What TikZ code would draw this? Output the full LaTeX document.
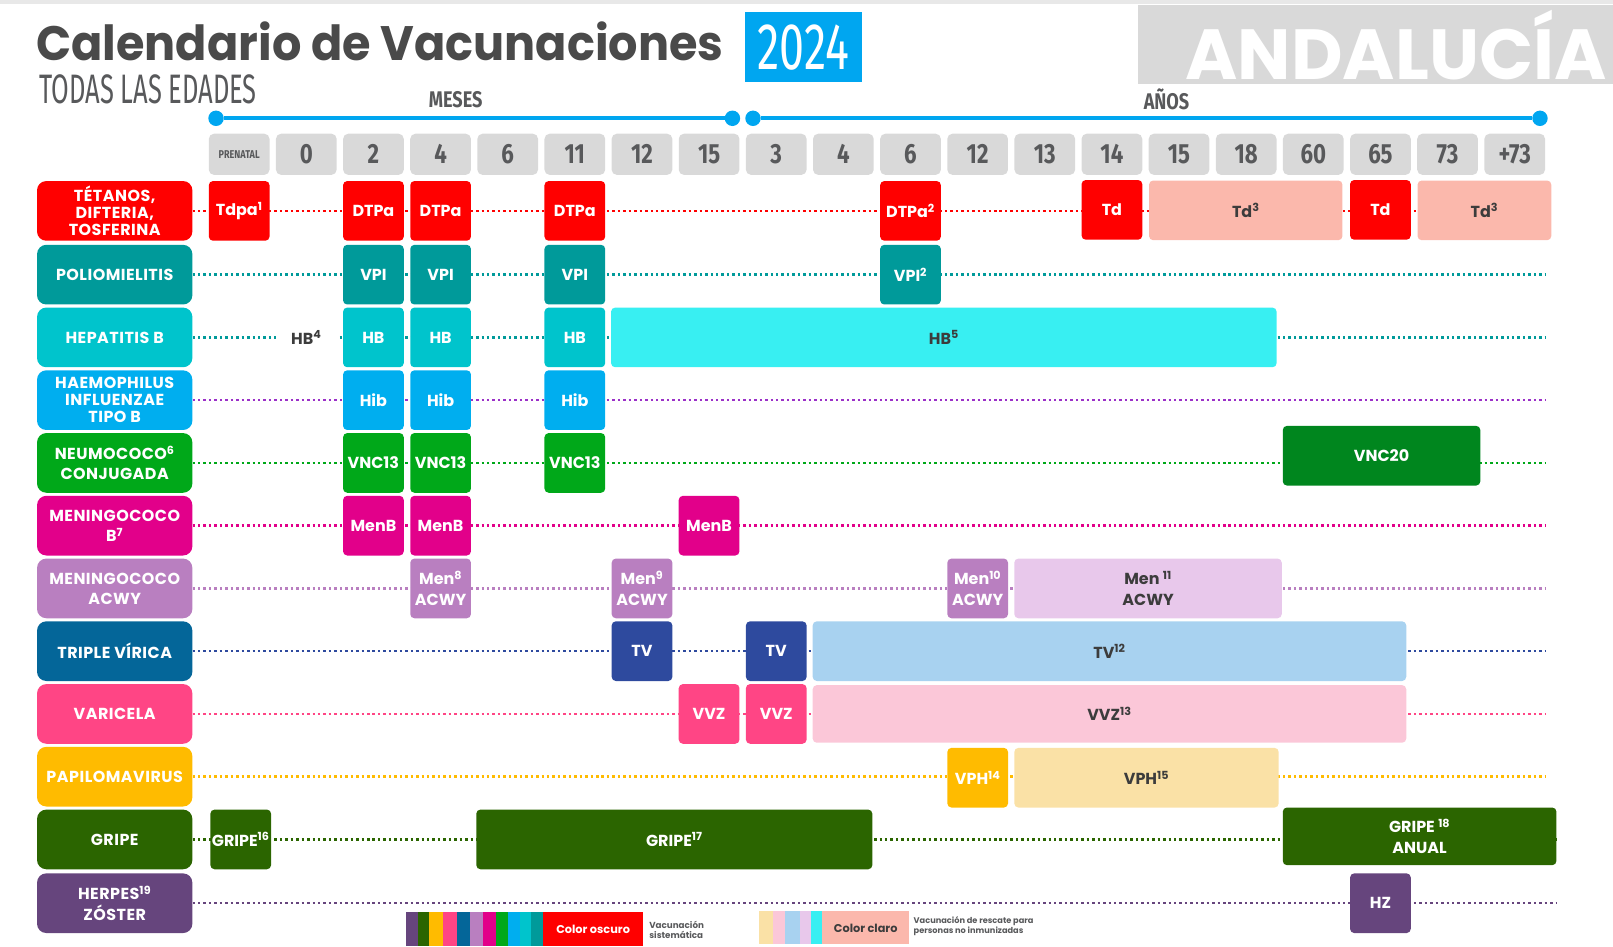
\documentclass[tikz,border=0pt]{standalone}
\usepackage{fontspec}
\newfontfamily\popfont{Poppins}
\newfontfamily\labfont[LetterSpace=3]{Poppins}
\newfontfamily\titlefont[FakeStretch=0.955]{Poppins}
\newfontfamily\condfont[FakeStretch=0.8]{Fira Sans}
\newfontfamily\narrowfont[FakeStretch=0.62]{Fira Sans}
\newfontfamily\yearfont[FakeStretch=0.68]{Fira Sans}
\usetikzlibrary{positioning,backgrounds}
\definecolor{cRed}{HTML}{FF0000}
\definecolor{cTeal}{HTML}{009A9A}
\definecolor{cTurq}{HTML}{00C4CC}
\definecolor{cSky}{HTML}{00AEEF}
\definecolor{cGreen}{HTML}{00A819}
\definecolor{cGreenDk}{HTML}{00861E}
\definecolor{cMagenta}{HTML}{E2008A}
\definecolor{cLilac}{HTML}{B97FC0}
\definecolor{cPetrol}{HTML}{046699}
\definecolor{cNavy}{HTML}{2E4A9E}
\definecolor{cPink}{HTML}{FF4585}
\definecolor{cAmber}{HTML}{FFBB00}
\definecolor{cForest}{HTML}{2B6500}
\definecolor{cPlum}{HTML}{66457D}
\definecolor{cPurpleLine}{HTML}{9B30C8}
\definecolor{lSalmon}{HTML}{FBB8AC}
\definecolor{lCyan}{HTML}{38EFF2}
\definecolor{lLilac}{HTML}{E8C8EB}
\definecolor{lBlue}{HTML}{A8D2F0}
\definecolor{lPink}{HTML}{FBC7D8}
\definecolor{lAmber}{HTML}{FAE1A6}
\definecolor{hdrGray}{HTML}{D9D9D9}
\definecolor{txtGray}{HTML}{58595B}
\definecolor{titleGray}{HTML}{4A4A4A}
\definecolor{darkTxt}{HTML}{3C3C3C}
\definecolor{yearBlue}{HTML}{00A6F0}
\tikzset{
	disease/.style={fill=#1, rounded corners=9pt, minimum width=151pt, minimum height=58pt,
		inner sep=0pt, align=center, text=white, font=\labfont\bfseries\fontsize{15.5}{16.5}\selectfont},
	dose/.style={fill=#1, rounded corners=4pt, minimum width=59pt, minimum height=58pt,
		inner sep=0pt, align=center, text=white, font=\popfont\bfseries\fontsize{15.5}{20.5}\selectfont},
	rescue/.style={dose=#1, text=darkTxt},
	agebox/.style={fill=hdrGray, rounded corners=5pt, minimum width=59pt, minimum height=40pt,
		inner sep=0pt, text=txtGray, font=\condfont\bfseries\fontsize{27}{27}\selectfont},
	track/.style={draw=#1, line width=2.4pt, dash pattern=on 2.4pt off 2.9pt},
	tdot/.style={circle, fill=yearBlue, minimum size=15pt, inner sep=0pt},
	legtext/.style={anchor=west, inner sep=0pt, align=left, text=txtGray}
}

\begin{document}
\begin{tikzpicture}[x=1pt, y=-1pt]
	\useasboundingbox (0,0) rectangle (1568,920);
	\fill[hdrGray!60] (0,0) rectangle (1568,4);
	
	% heading
	\node[anchor=base west, inner sep=0pt, text=titleGray, font=\titlefont\bfseries\fontsize{47}{47}\selectfont] (title) at (35,59) {Calendario de Vacunaciones};
	\node[fill=yearBlue, minimum width=114pt, minimum height=68pt, inner sep=0pt, text=white, font=\yearfont\fontsize{64}{64}\selectfont] (year) at (781,46) {2024};
	\node[fill=hdrGray, minimum width=502pt, minimum height=77pt, inner sep=0pt, text=white, font=\popfont\bfseries\fontsize{69}{69}\selectfont] (region) at (1357,43.5) {ANDALUCÍA};
	\node[anchor=base west, inner sep=0pt, text=txtGray, font=\narrowfont\fontsize{40}{40}\selectfont] (subtitle) at (38,101) {TODAS LAS EDADES};
	
	% time axis
	\node[text=txtGray, font=\condfont\bfseries\fontsize{22}{22}\selectfont] (meses) at (443,97) {MESES};
	\node[text=txtGray, font=\condfont\bfseries\fontsize{22}{22}\selectfont] (anos) at (1134,97) {AÑOS};
	\node[tdot] (m0) at (210,115) {};
	\node[tdot] (m1) at (712,115) {};
	\node[tdot] (y0) at (732,115) {};
	\node[tdot] (y1) at (1497,115) {};
	\draw[yearBlue, line width=4pt] (m0) -- (m1);
	\draw[yearBlue, line width=4pt] (y0) -- (y1);
	
	\node[agebox, font=\condfont\bfseries\fontsize{11}{11}\selectfont] (a0) at (232.5,150) {PRENATAL};
	\foreach \lab [count=\i] in {0,2,4,6,11,12,15,3,4,6,12,13,14,15,18,60,65,73,+73}
		\node[agebox] (a\i) at ({232.5+65.26*\i},150) {\lab};
	
	% diseases
	\node[disease=cRed] (tet) at (111.5,205) {TÉTANOS,\\DIFTERIA,\\TOSFERINA};
	\node[disease=cTeal] (polio) at (111.5,267) {POLIOMIELITIS};
	\node[disease=cTurq] (hepb) at (111.5,328) {HEPATITIS B};
	\node[disease=cSky] (hib) at (111.5,389) {HAEMOPHILUS\\INFLUENZAE\\TIPO B};
	\node[disease=cGreen] (neumo) at (111.5,450) {NEUMOCOCO\textsuperscript{6}\\[3pt]CONJUGADA};
	\node[disease=cMagenta] (menb) at (111.5,511) {MENINGOCOCO\\[3pt]B\textsuperscript{7}};
	\node[disease=cLilac] (menacwy) at (111.5,572) {MENINGOCOCO\\[3pt]ACWY};
	\node[disease=cPetrol] (tv) at (111.5,633) {TRIPLE VÍRICA};
	\node[disease=cPink] (vari) at (111.5,694) {VARICELA};
	\node[disease=cAmber] (vph) at (111.5,755) {PAPILOMAVIRUS};
	\node[disease=cForest] (gripe) at (111.5,816) {GRIPE};
	\node[disease=cPlum] (hz) at (111.5,878) {HERPES\textsuperscript{19}\\[3pt]ZÓSTER};
	
	% tetanos
	\node[dose=cRed] (tdpa) at (232.5,205) {Tdpa\textsuperscript{1}};
	\node[dose=cRed] (dtpa2) at (363,205) {DTPa};
	\node[dose=cRed] (dtpa4) at (428.3,205) {DTPa};
	\node[dose=cRed] (dtpa11) at (558.8,205) {DTPa};
	\node[dose=cRed] (dtpa6y) at (885.1,205) {DTPa\textsuperscript{2}};
	\node[dose=cRed] (td14) at (1080.9,204) {Td};
	\node[rescue=lSalmon, minimum width=188pt] (tdres) at (1211,204.5) {Td\textsuperscript{3}};
	\node[dose=cRed] (td65) at (1341.9,204) {Td};
	\node[rescue=lSalmon, minimum width=130pt] (tdold) at (1443,204.5) {Td\textsuperscript{3}};
	% polio
	\node[dose=cTeal] (vpi2) at (363,267) {VPI};
	\node[dose=cTeal] (vpi4) at (428.3,267) {VPI};
	\node[dose=cTeal] (vpi11) at (558.8,267) {VPI};
	\node[dose=cTeal] (vpi6y) at (885.1,267) {VPI\textsuperscript{2}};
	% hepatitis B
	\node[fill=white, minimum width=59pt, minimum height=20pt, inner sep=0pt, text=darkTxt, font=\popfont\bfseries\fontsize{15.5}{16}\selectfont] (hb0) at (297.8,328) {HB\textsuperscript{4}};
	\node[dose=cTurq] (hb2) at (363,328) {HB};
	\node[dose=cTurq] (hb4) at (428.3,328) {HB};
	\node[dose=cTurq] (hb11) at (558.8,328) {HB};
	\node[rescue=lCyan, minimum width=647pt] (hbres) at (917.5,328) {HB\textsuperscript{5}};
	% hib
	\node[dose=cSky] (hib2) at (363,389) {Hib};
	\node[dose=cSky] (hib4) at (428.3,389) {Hib};
	\node[dose=cSky] (hib11) at (558.8,389) {Hib};
	% neumococo
	\node[dose=cGreen] (vnc2) at (363,450) {VNC13};
	\node[dose=cGreen] (vnc4) at (428.3,450) {VNC13};
	\node[dose=cGreen] (vnc11) at (558.8,450) {VNC13};
	\node[dose=cGreenDk, minimum width=192pt] (vnc20) at (1343,443) {VNC20};
	% meningococo B
	\node[dose=cMagenta] (menb2) at (363,511) {MenB};
	\node[dose=cMagenta] (menb4) at (428.3,511) {MenB};
	\node[dose=cMagenta] (menb15) at (689.3,511) {MenB};
	% meningococo ACWY
	\node[dose=cLilac] (acwy4) at (428.3,572) {Men\textsuperscript{8}\\ACWY};
	\node[dose=cLilac] (acwy12) at (624.1,572) {Men\textsuperscript{9}\\ACWY};
	\node[dose=cLilac] (acwy12y) at (950.4,572) {Men\textsuperscript{10}\\ACWY};
	\node[rescue=lLilac, minimum width=260pt] (acwyres) at (1116,572) {Men \textsuperscript{11}\\ACWY};
	% triple virica
	\node[dose=cNavy] (tv12) at (624.1,633) {TV};
	\node[dose=cNavy] (tv3y) at (754.6,633) {TV};
	\node[rescue=lBlue, minimum width=577pt] (tvres) at (1078.5,633) {TV\textsuperscript{12}};
	% varicela
	\node[dose=cPink] (vvz15) at (689.3,694) {VVZ};
	\node[dose=cPink] (vvz3y) at (754.6,694) {VVZ};
	\node[rescue=lPink, minimum width=577pt, minimum height=56pt] (vvzres) at (1078.5,694) {VVZ\textsuperscript{13}};
	% papilomavirus
	\node[dose=cAmber] (vph12) at (950.4,756) {VPH\textsuperscript{14}};
	\node[rescue=lAmber, minimum width=257pt] (vphres) at (1114.5,756) {VPH\textsuperscript{15}};
	% gripe
	\node[dose=cForest] (gripe0) at (234,816) {GRIPE\textsuperscript{16}};
	\node[dose=cForest, minimum width=385pt] (gripe6) at (655.5,816) {GRIPE\textsuperscript{17}};
	\node[dose=cForest, minimum width=266pt, minimum height=56pt] (gripe60) at (1380,813) {GRIPE \textsuperscript{18}\\ANUAL};
	% herpes zoster
	\node[dose=cPlum] (hz65) at (1341.9,878) {HZ};
	
	\coordinate (e1) at (1508,205);
	\coordinate (e2) at (1502,267);
	\coordinate (e3) at (1502,328);
	\coordinate (e4) at (1502,389);
	\coordinate (e5) at (1502,450);
	\coordinate (e6) at (1502,511);
	\coordinate (e7) at (1502,572);
	\coordinate (e8) at (1502,633);
	\coordinate (e9) at (1502,694);
	\coordinate (e10) at (1502,755);
	\coordinate (e11) at (1513,816);
	\coordinate (e12) at (1513,878);
	
	\begin{scope}[on background layer]
		\draw[track=cRed] (tet.east) -- (e1);
		\draw[track=cTeal] (polio.east) -- (e2);
		\draw[track=cTeal] (hepb.east) -- (e3);
		\draw[track=cPurpleLine] (hib.east) -- (e4);
		\draw[track=cGreen] (neumo.east) -- (e5);
		\draw[track=cMagenta] (menb.east) -- (e6);
		\draw[track=cLilac] (menacwy.east) -- (e7);
		\draw[track=cNavy] (tv.east) -- (e8);
		\draw[track=cPink] (vari.east) -- (e9);
		\draw[track=cAmber] (vph.east) -- (e10);
		\draw[track=cForest] (gripe.east) -- (e11);
		\draw[track=cPlum] (hz.east) -- (e12);
	\end{scope}
	
	% legend
	\foreach \c/\a/\b in {cPlum/394.6/406.7, cForest/406.7/417.1, cAmber/417.1/430.5, cPink/430.5/444.1,
		cPetrol/444.1/457.1, cLilac/457.1/469.6, cMagenta/469.6/481.8, cGreen/481.8/493.6,
		cSky/493.6/505.2, cTurq/505.2/516.1, cTeal/516.1/528.2}
		\fill[\c] (\a,887) rectangle (\b,920);
	\node[fill=cRed, minimum width=97pt, minimum height=33pt, inner sep=0pt, text=white, font=\popfont\bfseries\fontsize{11}{11}\selectfont] (legdark) at (576.6,903.5) {Color oscuro};
	\node[legtext, font=\popfont\bfseries\fontsize{8.5}{9}\selectfont] (legdarktxt) at (631,904) {Vacunación\\sistemática};
	\foreach \c/\a/\b in {lAmber/738.3/751.3, lPink/751.3/763.5, lBlue/763.5/777.3, lLilac/777.3/788.2, lCyan/788.2/799.1}
		\fill[\c] (\a,886) rectangle (\b,918);
	\node[fill=lSalmon, minimum width=85pt, minimum height=32pt, inner sep=0pt, text=darkTxt, font=\popfont\bfseries\fontsize{11}{11}\selectfont] (leglight) at (841.6,902) {Color claro};
	\node[legtext, font=\popfont\bfseries\fontsize{8}{7.5}\selectfont] (leglighttxt) at (888,900) {Vacunación de rescate para\\personas no inmunizadas};
\end{tikzpicture}
\end{document}
